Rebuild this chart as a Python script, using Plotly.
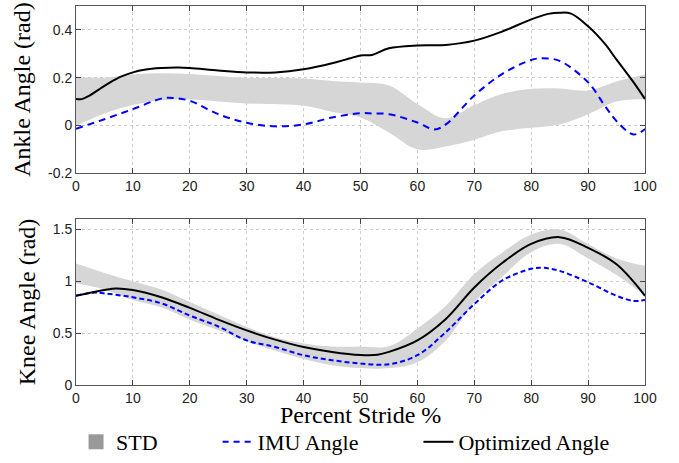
import plotly.graph_objects as go

# ---------------- data ----------------
# Ankle (top)
ank_opt_x = [0, 1, 2, 4, 6, 8, 10, 12, 15, 18, 20, 25, 30, 35, 40, 45, 48, 50, 52, 55, 60, 65, 70, 75, 80, 83, 85, 87, 90, 93, 95, 98, 100]
ank_opt_y = [0.11, 0.11, 0.12, 0.15, 0.18, 0.205, 0.222, 0.233, 0.24, 0.242, 0.24, 0.23, 0.222, 0.222, 0.235, 0.26, 0.28, 0.293, 0.295, 0.323, 0.335, 0.337, 0.355, 0.394, 0.444, 0.467, 0.472, 0.468, 0.415, 0.34, 0.275, 0.18, 0.11]

ank_imu_x = [0, 5, 10, 15, 17, 20, 25, 30, 35, 40, 45, 50, 52, 55, 60, 63, 65, 70, 75, 80, 82, 85, 90, 93, 95, 98, 100]
ank_imu_y = [-0.014, 0.026, 0.068, 0.112, 0.115, 0.103, 0.047, 0.011, -0.004, 0.004, 0.033, 0.051, 0.05, 0.047, 0.012, -0.017, 0.004, 0.125, 0.217, 0.274, 0.281, 0.27, 0.18, 0.08, 0.018, -0.038, -0.015]

ank_std_x = [0, 5, 10, 15, 20, 25, 30, 40, 45, 50, 55, 60, 65, 70, 75, 80, 85, 90, 95, 100]
ank_std_hi = [0.203, 0.2, 0.213, 0.218, 0.215, 0.207, 0.2, 0.196, 0.186, 0.18, 0.167, 0.09, 0.03, 0.085, 0.132, 0.153, 0.155, 0.146, 0.184, 0.213]
ank_std_lo = [-0.003, 0.05, 0.085, 0.105, 0.108, 0.1, 0.092, 0.082, 0.057, 0.033, -0.03, -0.1, -0.088, -0.06, -0.024, -0.01, 0.004, 0.047, 0.1, 0.111]

# Knee (bottom)
knee_opt_x = [0, 5, 7, 10, 15, 20, 25, 30, 35, 40, 45, 50, 53, 55, 60, 65, 70, 75, 80, 85, 90, 95, 100]
knee_opt_y = [0.86, 0.915, 0.93, 0.915, 0.845, 0.743, 0.63, 0.526, 0.437, 0.366, 0.319, 0.29, 0.292, 0.319, 0.43, 0.637, 0.94, 1.18, 1.36, 1.425, 1.322, 1.163, 0.86]

knee_imu_x = [0, 3, 5, 10, 15, 20, 25, 30, 35, 40, 45, 50, 55, 60, 65, 70, 75, 80, 82, 85, 90, 95, 98, 100]
knee_imu_y = [0.86, 0.89, 0.883, 0.845, 0.787, 0.669, 0.564, 0.43, 0.366, 0.287, 0.239, 0.207, 0.2, 0.287, 0.51, 0.78, 1.01, 1.12, 1.13, 1.1, 0.99, 0.86, 0.81, 0.82]

knee_std_x = [0, 5, 10, 15, 20, 25, 30, 35, 40, 45, 50, 55, 60, 65, 70, 75, 80, 85, 90, 95, 100]
knee_std_hi = [1.17, 1.08, 1.0, 0.92, 0.8, 0.68, 0.56, 0.46, 0.4, 0.37, 0.37, 0.373, 0.545, 0.765, 1.07, 1.28, 1.45, 1.5, 1.36, 1.22, 1.15]
knee_std_lo = [0.98, 0.92, 0.82, 0.75, 0.63, 0.53, 0.42, 0.33, 0.25, 0.19, 0.163, 0.163, 0.22, 0.43, 0.8, 1.05, 1.28, 1.36, 1.22, 1.06, 0.86]

x_ticks = [0, 10, 20, 30, 40, 50, 60, 70, 80, 90, 100]
ank_ticks = [-0.2, 0, 0.2, 0.4]
ank_tick_text = ["-0.2", "0", "0.2", "0.4"]
knee_ticks = [0, 0.5, 1, 1.5]
knee_tick_text = ["0", "0.5", "1", "1.5"]

# ---------------- style ----------------
BAND = "#d6d6d6"
LEG_BAND = "#999999"
BLUE = "#0000ff"
SERIF = "Liberation Serif, Times New Roman, serif"
SANS = "Liberation Sans, Arial, sans-serif"
NB = "\u00a0"

fig = go.Figure()

def band(x, lo, hi, xa, ya):
    fig.add_trace(go.Scatter(x=x, y=lo, mode="lines", line=dict(width=0, shape="spline", color=BAND),
                             showlegend=False, hoverinfo="skip", xaxis=xa, yaxis=ya))
    fig.add_trace(go.Scatter(x=x, y=hi, mode="lines", line=dict(width=0, shape="spline", color=BAND),
                             fill="tonexty", fillcolor=BAND, showlegend=False, hoverinfo="skip",
                             xaxis=xa, yaxis=ya))

band(ank_std_x, ank_std_lo, ank_std_hi, "x", "y")
band(knee_std_x, knee_std_lo, knee_std_hi, "x2", "y2")

fig.add_trace(go.Scatter(x=ank_imu_x, y=ank_imu_y, mode="lines", showlegend=False,
                         line=dict(color=BLUE, width=2, dash="7px,5px", shape="spline"), xaxis="x", yaxis="y"))
fig.add_trace(go.Scatter(x=ank_opt_x, y=ank_opt_y, mode="lines", showlegend=False,
                         line=dict(color="black", width=2, shape="spline"), xaxis="x", yaxis="y"))
fig.add_trace(go.Scatter(x=knee_imu_x, y=knee_imu_y, mode="lines", showlegend=False,
                         line=dict(color=BLUE, width=2, dash="5px,3px", shape="spline"), xaxis="x2", yaxis="y2"))
fig.add_trace(go.Scatter(x=knee_opt_x, y=knee_opt_y, mode="lines", showlegend=False,
                         line=dict(color="black", width=2, shape="spline"), xaxis="x2", yaxis="y2"))

# legend entries
fig.add_trace(go.Scatter(x=[None], y=[None], mode="markers", name="STD" + NB * 10,
                         marker=dict(symbol="square", size=15, color=LEG_BAND), xaxis="x2", yaxis="y2"))
fig.add_trace(go.Scatter(x=[None], y=[None], mode="lines", name="IMU Angle" + NB * 10,
                         line=dict(color=BLUE, width=2, dash="6px,5px"), xaxis="x2", yaxis="y2"))
fig.add_trace(go.Scatter(x=[None], y=[None], mode="lines", name="Optimized Angle",
                         line=dict(color="black", width=2), xaxis="x2", yaxis="y2"))

axis_common = dict(
    range=[0, 100], tickvals=x_ticks, ticks="inside", ticklen=5, tickcolor="#444",
    showline=True, linecolor="#555", linewidth=1, mirror="ticks", automargin=False,
    showgrid=True, gridcolor="#cccccc", griddash="dot", gridwidth=1, zeroline=False,
    tickfont=dict(family=SANS, size=14, color="#222"),
)
yaxis_common = dict(
    ticks="inside", ticklen=5, tickcolor="#444", automargin=False,
    showline=True, linecolor="#555", linewidth=1, mirror="ticks",
    showgrid=True, gridcolor="#cccccc", griddash="dot", gridwidth=1, zeroline=False,
    tickfont=dict(family=SANS, size=14, color="#222"),
)

fig.update_layout(
    width=679, height=463,
    margin=dict(l=76, r=34, t=6, b=78),
    paper_bgcolor="white", plot_bgcolor="white",
    xaxis=dict(axis_common, domain=[0, 1], anchor="y"),
    yaxis=dict(yaxis_common, domain=[0.559, 1], range=[-0.2, 0.5], tickvals=ank_ticks, ticktext=ank_tick_text,
               title=dict(text="Ankle Angle (rad)", font=dict(family=SERIF, size=24, color="black"), standoff=10)),
    xaxis2=dict(axis_common, domain=[0, 1], anchor="y2"),
    yaxis2=dict(yaxis_common, domain=[0, 0.438], range=[0, 1.6], tickvals=knee_ticks, ticktext=knee_tick_text,
                title=dict(text="Knee Angle (rad)", font=dict(family=SERIF, size=24, color="black"), standoff=10)),
    legend=dict(orientation="h", xref="container", yref="container", x=0.112, y=-0.035,
                xanchor="left", yanchor="bottom", traceorder="normal",
                font=dict(family=SERIF, size=22, color="black"), bgcolor="rgba(0,0,0,0)"),
    showlegend=True,
    annotations=[dict(text="Percent Stride %", xref="paper", yref="paper", x=0.5, y=0,
                      xanchor="center", yanchor="middle", yshift=-30, showarrow=False,
                      font=dict(family=SERIF, size=24, color="black"))],
)

fig.write_html("out.html", post_script="document.body.style.margin='0';",
               config={"displayModeBar": False})
